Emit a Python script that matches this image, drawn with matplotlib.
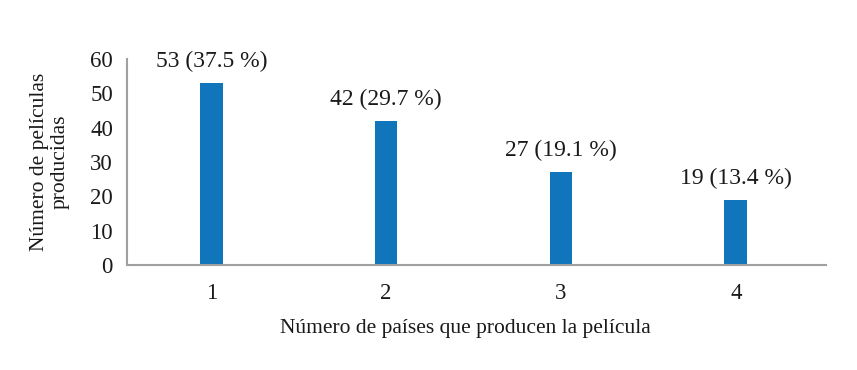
import matplotlib
matplotlib.use('Agg')
import matplotlib.pyplot as plt

# Data
paises = [1, 2, 3, 4]
peliculas = [53, 42, 27, 19]
porcentajes = [37.5, 29.7, 19.1, 13.4]

plt.rcParams['font.family'] = ['Liberation Serif', 'DejaVu Serif']

fig = plt.figure(figsize=(8.57, 3.7), dpi=100)
ax = fig.add_axes([0.148, 0.2838, 0.816, 0.5567])

ax.bar(paises, peliculas, width=0.13, color='#1175bb')

# Value labels above bars
for x, n, p in zip(paises, peliculas, porcentajes):
    ax.annotate(f'{n} ({p} %)', (x, n), xytext=(0, 8), textcoords='offset points',
                ha='center', va='bottom', fontsize=17, color='#1a1a1a')

ax.set_xlim(0.517, 4.517)
ax.set_ylim(0, 60)
ax.set_yticks(range(0, 61, 10))
ax.set_xticks(paises)
ax.tick_params(length=0, labelsize=16.5, colors='#1a1a1a')
ax.tick_params(axis='x', pad=13)
ax.tick_params(axis='y', pad=10)

for s in ['top', 'right']:
    ax.spines[s].set_visible(False)
for s in ['left', 'bottom']:
    ax.spines[s].set_color('#a0a0a0')
    ax.spines[s].set_linewidth(1.5)

ax.set_xlabel('Número de países que producen la película', fontsize=15.5,
              color='#1a1a1a', labelpad=11)
ax.xaxis.label.set_x(0.4835)
ax.set_ylabel('Número de películas\nproducidas', fontsize=15.5,
              color='#1a1a1a', labelpad=15, linespacing=1.1)

fig.savefig('out.png', dpi=100)
